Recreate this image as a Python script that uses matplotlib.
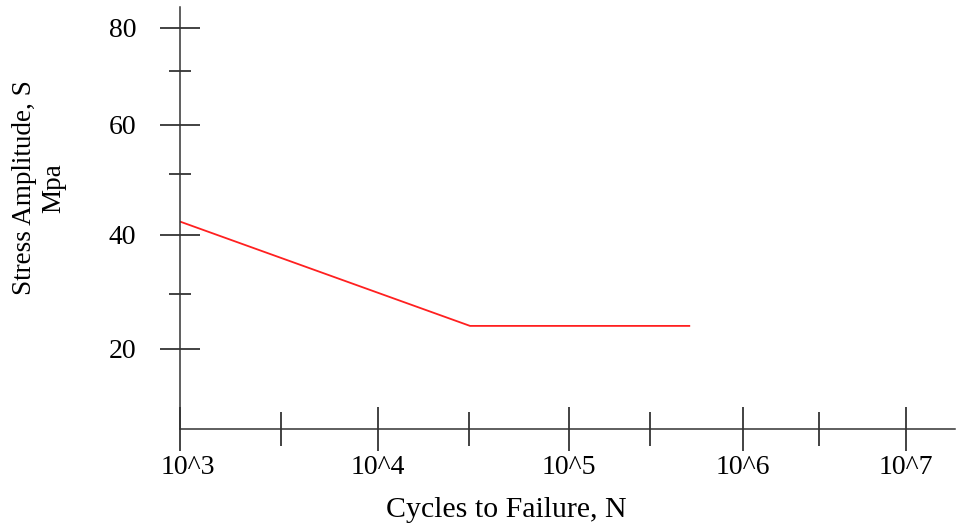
import numpy as np
import matplotlib
matplotlib.use("Agg")
import matplotlib.pyplot as plt
from matplotlib.ticker import FixedLocator, FixedFormatter
from matplotlib.transforms import ScaledTranslation

# S-N curve
cycles = [1e3, 3.2e4, 5.2e5]
stress = [42.2, 24.2, 24.2]

x_major = [1e3, 1e4, 1e5, 1e6, 1e7]
x_labels = ["10^3", "10^4", "10^5", "10^6", "10^7"]
x_minor = [10**3.5, 10**4.5, 10**5.5, 10**6.5]
y_major = [20, 40, 60, 80]
y_minor = [30, 50, 70]

# the sketch's axes are hand-spaced, so the scales are piecewise linear
kx = np.array([2, 3, 3.5, 4, 4.5, 5, 5.5, 6, 6.5, 7, 8])
px = np.array([-17, 180, 280.7, 377.7, 469, 569, 650, 743, 819, 906, 1080])
ky = np.array([0, 20, 30, 40, 50, 60, 70, 80, 100])
py = -np.array([459, 349, 294, 235, 174, 124.7, 70.7, 27.7, -58.3])


def fx(v):
    return np.interp(np.log10(np.clip(v, 1e-9, None)), kx, px)


def fx_inv(p):
    return 10 ** np.interp(p, px, kx)


def fy(v):
    return np.interp(v, ky, py)


def fy_inv(p):
    return np.interp(p, py, ky)


plt.rcParams['font.family'] = ['Liberation Serif', 'DejaVu Serif']
plt.rcParams['font.size'] = 20

fig = plt.figure(figsize=(9.56, 5.29), dpi=100)
W, H = 956, 529
ax = fig.add_axes([180 / W, (H - 429) / H, 775 / W, 422 / H])
ax.set_xscale('function', functions=(fx, fx_inv))
ax.set_yscale('function', functions=(fy, fy_inv))
ax.set_xlim(1e3, fx_inv(955))
ax.set_ylim(fy_inv(-429), fy_inv(-7))

ax.plot(cycles, stress, color='#ff2020', lw=1.3, solid_capstyle='butt')

for s in ['top', 'right']:
    ax.spines[s].set_visible(False)
for s in ['left', 'bottom']:
    ax.spines[s].set_color('#333333')
    ax.spines[s].set_linewidth(1.1)

ax.xaxis.set_major_locator(FixedLocator(x_major))
ax.xaxis.set_major_formatter(FixedFormatter(x_labels))
ax.xaxis.set_minor_locator(FixedLocator(x_minor))
ax.xaxis.set_minor_formatter(FixedFormatter([]))
ax.yaxis.set_major_locator(FixedLocator(y_major))
ax.yaxis.set_minor_locator(FixedLocator(y_minor))
ax.yaxis.set_minor_formatter(FixedFormatter([]))

ax.tick_params(axis='x', which='major', direction='inout', length=31.7, width=1.2, color='#222222', pad=3)
ax.tick_params(axis='x', which='minor', direction='inout', length=24.5, width=1.2, color='#222222')
ax.tick_params(axis='y', which='major', direction='inout', length=28.8, width=1.2, color='#222222', pad=17)
ax.tick_params(axis='y', which='minor', direction='inout', length=15.8, width=1.2, color='#222222')

fig.text(39 / W, 1 - 188 / H, "Stress Amplitude, S\nMpa", rotation=90,
         ha='center', va='center', ma='center', fontsize=19.5)
fig.text(506 / W, 1 - 510 / H, "Cycles to Failure, N", ha='center', va='center', fontsize=21.5)

# the first cycle label sits a little right of the axis corner
fig.canvas.draw()
first = ax.xaxis.get_major_ticks()[0].label1
first.set_transform(first.get_transform() + ScaledTranslation(8 / 100, 0, fig.dpi_scale_trans))

plt.savefig("out.png", dpi=100)
plt.close()
